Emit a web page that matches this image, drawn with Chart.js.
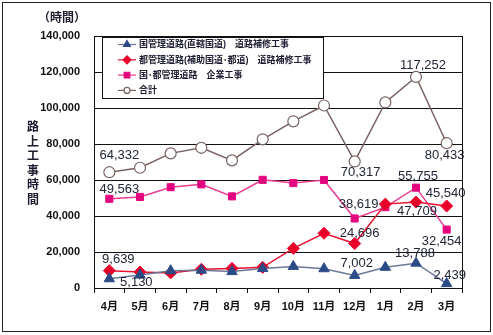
<!DOCTYPE html>
<html>
<head>
<meta charset="utf-8">
<script src="https://cdn.jsdelivr.net/npm/chart.js@4/dist/chart.umd.min.js"></script>
<style>
  html, body { margin: 0; padding: 0; background: #fff; }
  #wrap { width: 493px; height: 335px; position: relative; }
</style>
</head>
<body>
<div id="wrap"><canvas id="koujiChart"></canvas></div>
<script>
// データ
const months = ['4月', '5月', '6月', '7月', '8月', '9月', '10月', '11月', '12月', '1月', '2月', '3月'];
const kuniKanri = [5130, 7200, 9600, 9900, 9100, 10800, 12000, 10700, 7002, 11500, 13788, 2439];
const toKanri = [9639, 8900, 8400, 10400, 10900, 11500, 22000, 30400, 24696, 46600, 47709, 45540];
const kigyouKouji = [49563, 50600, 56000, 57600, 50900, 60100, 58300, 60000, 38619, 44900, 55755, 32454];
const goukei = [64332, 66800, 74800, 77900, 70900, 82600, 92600, 101400, 70317, 103100, 117252, 80433];
const yTicks = [0, 20000, 40000, 60000, 80000, 100000, 120000, 140000];

const FONT = "'Liberation Sans', 'Noto Sans CJK JP', sans-serif";

// 数値ラベル（どの点に付けるか、位置のずらし）
const labelOffsets = [
    // dataset 0: 国管理
    { 0: [27, 4], 8: [2, -12], 10: [-1, -10], 11: [3, -8] },
    // dataset 1: 都管理
    { 0: [9, -11], 8: [5, -10], 10: [1, 9], 11: [-1, -13] },
    // dataset 2: 企業工事
    { 0: [10, -9], 8: [4, -14], 10: [2, -11], 11: [-5, 12] },
    // dataset 3: 合計
    { 0: [10, -17], 8: [6, 11], 10: [7, -12], 11: [-2, 12] }
];

const valueLabels = {
    id: 'valueLabels',
    afterDatasetsDraw(chart) {
        const ctx = chart.ctx;
        ctx.save();
        ctx.font = '13px ' + FONT;
        ctx.fillStyle = '#222638';
        ctx.textAlign = 'center';
        ctx.textBaseline = 'middle';
        labelOffsets.forEach(function(offs, di) {
            const meta = chart.getDatasetMeta(di);
            const data = chart.data.datasets[di].data;
            Object.keys(offs).forEach(function(k) {
                const pt = meta.data[k];
                ctx.fillText(data[k].toLocaleString('en-US'), pt.x + offs[k][0], pt.y + offs[k][1]);
            });
        });
        ctx.restore();
    }
};

// 枠、軸タイトル、凡例
const decorations = {
    id: 'decorations',
    beforeDraw(chart) {
        const ctx = chart.ctx;
        ctx.save();
        ctx.fillStyle = '#fff';
        ctx.fillRect(0, 0, chart.width, chart.height);
        ctx.strokeStyle = '#222';
        ctx.lineWidth = 1;
        ctx.strokeRect(2.5, 2.5, 488, 329);
        ctx.restore();
    },
    afterDraw(chart) {
        const ctx = chart.ctx;
        const a = chart.chartArea;
        ctx.save();
        ctx.strokeStyle = '#111';
        ctx.lineWidth = 1;
        ctx.strokeRect(Math.round(a.left) + 0.5, Math.round(a.top) + 0.5, Math.round(a.right - a.left), Math.round(a.bottom - a.top));

        ctx.fillStyle = '#1c1c30';
        ctx.font = 'bold 12px ' + FONT;
        ctx.textAlign = 'center';
        ctx.textBaseline = 'middle';
        ctx.fillText('（時間）', 62, 19);
        const title = '路上工事時間';
        for (let i = 0; i < title.length; i++) {
            ctx.fillText(title[i], 33, 128 + i * 14.5);
        }

        // 凡例
        const lx = 102, ly = 37, lw = 221, lh = 61;
        ctx.fillStyle = '#fff';
        ctx.fillRect(lx, ly, lw, lh);
        ctx.strokeStyle = '#111';
        ctx.strokeRect(lx + 0.5, ly + 0.5, lw, lh);
        ctx.font = 'bold 9px ' + FONT;
        ctx.textAlign = 'left';
        chart.data.datasets.forEach(function(ds, i) {
            const y = 44.5 + i * 15.3;
            ctx.strokeStyle = ds.borderColor;
            ctx.lineWidth = 1.2;
            ctx.beginPath();
            ctx.moveTo(118, y);
            ctx.lineTo(136, y);
            ctx.stroke();
            ctx.fillStyle = ds.pointBackgroundColor;
            ctx.strokeStyle = ds.pointBorderColor;
            Chart.helpers.drawPoint(ctx, {
                pointStyle: ds.pointStyle,
                radius: ds.pointStyle === 'circle' ? 3 : 4,
                borderWidth: 1
            }, 127, y);
            ctx.fillStyle = '#1c1c30';
            ctx.fillText(ds.label, 139, y + 0.5);
        });
        ctx.restore();
    }
};

new Chart(document.getElementById('koujiChart'), {
    type: 'line',
    data: {
        labels: months,
        datasets: [{
            label: '国管理道路(直轄国道)　道路補修工事',
            data: kuniKanri,
            borderColor: '#6a7898',
            borderWidth: 1.5,
            pointStyle: 'triangle',
            pointRadius: 6,
            pointBackgroundColor: '#2b4a86',
            pointBorderColor: '#2b4a86',
            pointBorderWidth: 1
        }, {
            label: '都管理道路(補助国道･都道)　道路補修工事',
            data: toKanri,
            borderColor: '#e8102e',
            borderWidth: 1.5,
            pointStyle: 'rectRot',
            pointRadius: 6,
            pointBackgroundColor: '#e8002a',
            pointBorderColor: '#e8002a',
            pointBorderWidth: 1
        }, {
            label: '国･都管理道路　企業工事',
            data: kigyouKouji,
            borderColor: '#ee3a8e',
            borderWidth: 1.5,
            pointStyle: 'rect',
            pointRadius: 5,
            pointBackgroundColor: '#e3057e',
            pointBorderColor: '#e3057e',
            pointBorderWidth: 1
        }, {
            label: '合計',
            data: goukei,
            borderColor: '#7a6262',
            borderWidth: 1.5,
            pointStyle: 'circle',
            pointRadius: 5.5,
            pointBackgroundColor: '#ffffff',
            pointBorderColor: '#7a6262',
            pointBorderWidth: 1.2
        }]
    },
    options: {
        responsive: true,
        maintainAspectRatio: false,
        animation: false,
        layout: {
            padding: { left: 0, right: 31, top: 36, bottom: 0 }
        },
        plugins: {
            legend: { display: false },
            tooltip: { enabled: false }
        },
        elements: {
            line: { tension: 0 }
        },
        scales: {
            x: {
                offset: true,
                grid: {
                    offset: true,
                    drawOnChartArea: false,
                    color: '#111',
                    tickLength: 5
                },
                border: { color: '#111' },
                ticks: {
                    color: '#111',
                    padding: 7,
                    maxRotation: 0,
                    font: { family: FONT, size: 11, weight: 'bold' }
                },
                afterFit(scale) { scale.height = 47; }
            },
            y: {
                min: 0,
                max: 140000,
                afterBuildTicks(scale) {
                    scale.ticks = yTicks.map(function(v) { return { value: v }; });
                },
                grid: {
                    color: '#111',
                    drawTicks: false
                },
                border: { color: '#111' },
                ticks: {
                    color: '#111',
                    padding: 14,
                    font: { family: FONT, size: 11, weight: 'bold' },
                    callback: function(v) { return v.toLocaleString('en-US'); }
                },
                afterFit(scale) { scale.width = 94; }
            }
        }
    },
    plugins: [decorations, valueLabels]
});
</script>
</body>
</html>
